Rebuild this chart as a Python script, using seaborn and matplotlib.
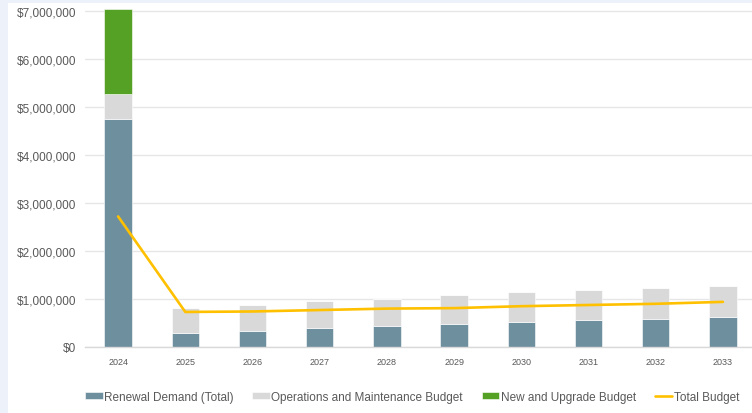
import matplotlib
matplotlib.use("Agg")
import matplotlib.pyplot as plt
from matplotlib.patches import Rectangle
from matplotlib.ticker import FuncFormatter
import seaborn as sns
import numpy as np
import pandas as pd

years = ["2024", "2025", "2026", "2027", "2028", "2029", "2030", "2031", "2032", "2033"]
renewal_demand = [4760000, 290000, 330000, 400000, 440000, 480000, 530000, 560000, 580000, 620000]
operations_maintenance = [510000, 530000, 545000, 550000, 570000, 600000, 610000, 630000, 650000, 650000]
new_upgrade = [1770000, 0, 0, 0, 0, 0, 0, 0, 0, 0]
total_budget = [2720000, 730000, 740000, 770000, 800000, 810000, 850000, 875000, 900000, 940000]

legend_labels = ["Renewal Demand (Total)", "Operations and Maintenance Budget",
                 "New and Upgrade Budget", "Total Budget"]

c_renewal = "#6e8f9e"
c_om = "#d9d9d9"
c_new = "#55a125"
c_total = "#ffc000"
text_grey = "#595959"

sns.set_theme(style="white")
plt.rcParams["font.family"] = ["Liberation Sans", "DejaVu Sans"]

df = pd.DataFrame({
    "year": years,
    "renewal": renewal_demand,
    "om": operations_maintenance,
    "new": new_upgrade,
    "total": total_budget,
})
df["om_base"] = df["renewal"]
df["new_base"] = df["renewal"] + df["om"]

fig = plt.figure(figsize=(7.52, 4.14), dpi=100, facecolor="white")
# pale page border along the top and left edges
fig.patches.append(Rectangle((0, 1 - 4 / 414), 1, 4 / 414, transform=fig.transFigure,
                             facecolor="#edf2fa", edgecolor="none", zorder=0))
fig.patches.append(Rectangle((0, 0), 8 / 752, 1, transform=fig.transFigure,
                             facecolor="#edf2fa", edgecolor="none", zorder=0))

ymax = 7100000
ax = fig.add_axes([84.5 / 752, 66 / 414, 672 / 752, 48 * ymax / 1e6 / 414])
ax.set_facecolor("none")

bw = 0.41
sns.barplot(data=df, x="year", y="renewal", color=c_renewal, width=bw,
            saturation=1, ax=ax, label=legend_labels[0], zorder=2)
sns.barplot(data=df, x="year", y="om", bottom=df["om_base"], color=c_om, width=bw,
            saturation=1, ax=ax, label=legend_labels[1], zorder=2)
sns.barplot(data=df, x="year", y="new", bottom=df["new_base"], color=c_new, width=bw,
            saturation=1, ax=ax, label=legend_labels[2], zorder=2)
for p in ax.patches:
    p.set_edgecolor("white")
    p.set_linewidth(0.4)

sns.lineplot(x=np.arange(len(years)), y=df["total"], color=c_total, linewidth=1.9,
             ax=ax, label=legend_labels[3], zorder=3)

ax.set_xlim(-0.5, len(years) - 0.5)
ax.set_ylim(0, ymax)
ax.set_yticks(np.arange(0, 7000001, 1000000))
ax.yaxis.set_major_formatter(FuncFormatter(lambda v, _: f"${v:,.0f}"))
ax.grid(axis="y", color="#e6e6e6", linewidth=1.0, zorder=0)
ax.set_axisbelow(True)
for s in ["top", "right", "left"]:
    ax.spines[s].set_visible(False)
ax.spines["bottom"].set_color("#d9d9d9")
ax.spines["bottom"].set_linewidth(1.0)
ax.tick_params(axis="y", length=0, pad=6, labelsize=8.5, labelcolor=text_grey)
ax.tick_params(axis="x", length=0, pad=7, labelsize=6.5, labelcolor=text_grey)
ax.set_xlabel("")
ax.set_ylabel("")

handles, labels = ax.get_legend_handles_labels()
ax.get_legend().remove()
order = [labels.index(l) for l in legend_labels]
fig.legend([handles[i] for i in order], [labels[i] for i in order],
           loc="center", bbox_to_anchor=(412 / 752, 1 - 398 / 414), ncol=4,
           frameon=False, fontsize=8.5, labelcolor=text_grey,
           handlelength=1.5, handleheight=0.55, handletextpad=0.1, columnspacing=1.6)

fig.savefig("out.png", dpi=100, facecolor=fig.get_facecolor())
